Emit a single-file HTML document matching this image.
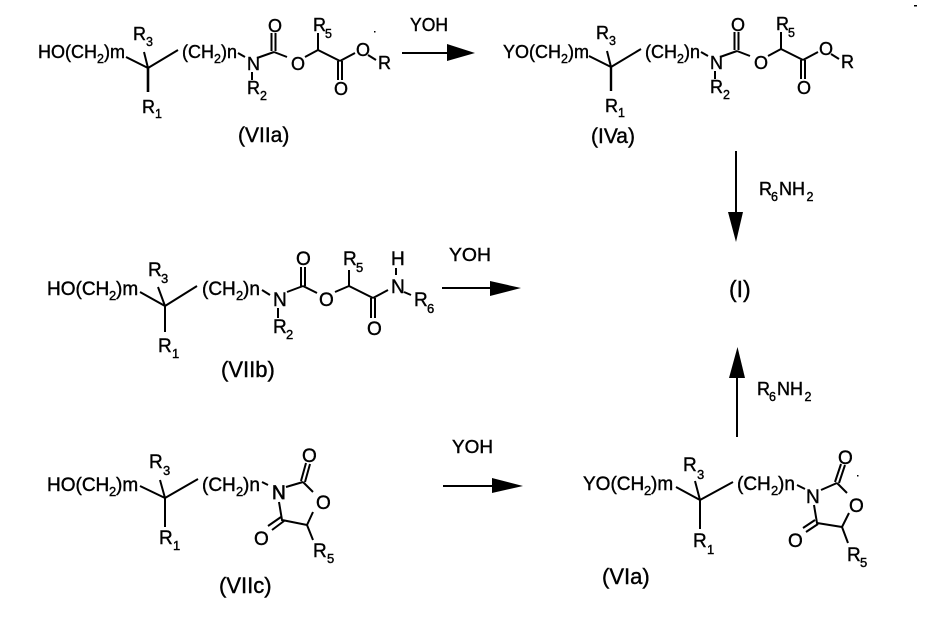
<!DOCTYPE html>
<html><head><meta charset="utf-8"><style>
html,body{margin:0;padding:0;background:#fff}
svg{display:block}
text{font-family:"Liberation Sans",sans-serif;font-size:18px;fill:#000;stroke:#000;stroke-width:.4}
text.s{font-size:12.5px}
text.l{font-size:21px}
.b text{font-size:19px}
.b text.s{font-size:13px}
.b text.l{font-size:22px}
path{stroke:#000;stroke-width:2;fill:none}
polygon{fill:#000;stroke:none}
</style></head><body>
<svg width="926" height="644" viewBox="0 0 926 644" xmlns="http://www.w3.org/2000/svg">

<!-- VIIa -->
<g>
<text x="38" y="58">HO(CH</text><text class="s" x="97" y="63">2</text><text x="104" y="58">)m</text>
<path d="M126 57L148 68M144 52L148 68M148 68L178 50"/>
<path d="M148 68V92" style="stroke-width:2.6"/>
<text x="133" y="40">R</text><text class="s" x="146" y="46">3</text>
<text x="142" y="113">R</text><text class="s" x="155" y="118">1</text>
<text x="182" y="58">(CH</text><text class="s" x="214" y="63">2</text><text x="221" y="58">)n</text>
<path d="M238 53L245 57"/>
<text x="247" y="70">N</text>
<path d="M252 72V80M257 58L274 52M271.500 51V33M275.500 51V33M274 52L287 57"/>
<text x="247" y="94">R</text><text class="s" x="260" y="100">2</text>
<text x="268" y="32">O</text>
<text x="291" y="70">O</text>
<path d="M305 57L318 50M318 50V33M318 50L340 61M338 61V80M342 61V80M340 61L355 53"/>
<text x="313" y="31">R</text><text class="s" x="325" y="38">5</text>
<text x="334" y="95">O</text>
<text x="356" y="56">O</text>
<path d="M368 55L376 60"/>
<text x="378" y="69">R</text>
<text class="l" x="238" y="142">(VIIa)</text>
</g>

<!-- arrow 1 -->
<text x="410" y="31" textLength="38" lengthAdjust="spacingAndGlyphs">YOH</text>
<path d="M402 53H448" style="stroke-width:2"/>
<polygon points="447,44 475,53 447,61"/>

<!-- IVa -->
<g transform="translate(463,-1)">
<text x="40" y="59">YO(CH</text><text class="s" x="98" y="64">2</text><text x="105" y="59">)m</text>
<path d="M126 57L148 68M144 52L148 68M148 68L178 50"/>
<path d="M148 68V92" style="stroke-width:2.400"/>
<text x="133" y="40">R</text><text class="s" x="146" y="46">3</text>
<text x="142" y="113">R</text><text class="s" x="155" y="118">1</text>
<text x="182" y="59">(CH</text><text class="s" x="214" y="64">2</text><text x="221" y="59">)n</text>
<path d="M238 53L245 57"/>
<text x="247" y="70">N</text>
<path d="M252 72V80M257 58L274 52M271.500 51V33M275.500 51V33M274 52L287 57"/>
<text x="247" y="94">R</text><text class="s" x="260" y="100">2</text>
<text x="268" y="32">O</text>
<text x="291" y="70">O</text>
<path d="M305 57L318 50M318 50V33M318 50L340 61M338 61V80M342 61V80M340 61L355 53"/>
<text x="313" y="31">R</text><text class="s" x="325" y="38">5</text>
<text x="334" y="95">O</text>
<text x="356" y="56">O</text>
<path d="M368 55L376 60"/>
<text x="378" y="69">R</text>
</g>
<text class="l" x="591" y="143">(IVa)</text>

<!-- down arrow -->
<path d="M736 151V214"/>
<polygon points="728,212 743,212 736,242"/>
<text x="759" y="195">R</text><text class="s" x="771" y="201">6</text><text x="779" y="195">NH</text><text class="s" x="806.500" y="201">2</text>

<text class="l" x="729" y="297" style="font-size:23px">(I)</text>

<!-- up arrow -->
<path d="M737 437V376"/>
<polygon points="729,378 745,378 737.500,347"/>
<text x="757" y="395">R</text><text class="s" x="769" y="401">6</text><text x="777" y="395">NH</text><text class="s" x="804.500" y="401">2</text>

<!-- VIIb -->
<g class="b">
<text x="47" y="295">HO(CH</text><text class="s" x="109" y="300">2</text><text x="116" y="295">)m</text>
<path d="M140 292L165 306M158 287L165 306M165 306V332M165 306L197 286"/>
<text x="148" y="276">R</text><text class="s" x="161" y="283">3</text>
<text x="158" y="352">R</text><text class="s" x="172" y="358">1</text>
<text x="202" y="295">(CH</text><text class="s" x="236" y="300">2</text><text x="243" y="295">)n</text>
<path d="M262 290L270 295"/>
<text x="273" y="306">N</text>
<path d="M278 308V318M287 292L303 286M301 286V267M305 286V267M303 286L317 293"/>
<text x="273" y="333">R</text><text class="s" x="286" y="339">2</text>
<text x="296" y="265">O</text>
<text x="319" y="306">O</text>
<path d="M335 292L349 286M349 286V270M349 286L373 298M371 298V318M375 298V318M373 298L388 290"/>
<text x="343" y="265">R</text><text class="s" x="356" y="272">5</text>
<text x="367" y="335">O</text>
<text x="391" y="293">N</text>
<text x="391" y="265">H</text>
<path d="M396 268V275M404 292L411 295"/>
<text x="414" y="306">R</text><text class="s" x="427" y="313">6</text>
<text class="l" x="221" y="377">(VIIb)</text>
</g>

<!-- arrow 2 -->
<text x="449" y="261" textLength="42" lengthAdjust="spacingAndGlyphs">YOH</text>
<path d="M442 288H492"/>
<polygon points="490,281 521,288 490,296"/>

<!-- VIIc -->
<g class="b">
<text x="47" y="491">HO(CH</text><text class="s" x="109" y="496">2</text><text x="116" y="491">)m</text>
<path d="M140 486L165 498M160 480L165 498M165 498V527M165 498L198 479"/>
<text x="149" y="468">R</text><text class="s" x="163" y="475">3</text>
<text x="159" y="544">R</text><text class="s" x="173" y="550">1</text>
<text x="202" y="491">(CH</text><text class="s" x="236" y="496">2</text><text x="243" y="491">)n</text>
<path d="M262 482L268 485"/>
<text x="272" y="499" style="stroke-width:.7">N</text>
<path d="M286 487L303 482M301 481L306 463M305 482L310 464M303 482L313 492M313 512L307 525L282 520L279 502M281 517L268 526M284 521L272 530M307 525L313 540"/>
<text x="302" y="462">O</text>
<text x="316" y="509">O</text>
<text x="254" y="545">O</text>
<text x="313" y="557">R</text><text class="s" x="327" y="563">5</text>
<text class="l" x="219" y="593">(VIIc)</text>
</g>

<!-- arrow 3 -->
<text x="452" y="453" textLength="41" lengthAdjust="spacingAndGlyphs">YOH</text>
<path d="M443 486H494"/>
<polygon points="492,478 523,486 492,493"/>

<!-- VIa -->
<g class="b">
<text x="583" y="490">YO(CH</text><text class="s" x="644" y="495">2</text><text x="651" y="490">)m</text>
<path d="M676 487L700 500M695 481L700 500M700 500V529M700 500L733 482"/>
<text x="683" y="471">R</text><text class="s" x="697" y="479">3</text>
<text x="693" y="547">R</text><text class="s" x="707" y="554">1</text>
<text x="737" y="490">(CH</text><text class="s" x="771" y="495">2</text><text x="778" y="490">)n</text>
<path d="M797 485L805 489"/>
<text x="806" y="503">N</text>
<path d="M821 490L837 483M835 482L841 464M839 483L845 465M837 483L847 493M849 513L842 527L817 523L814 505M815 520L803 528M818 524L806 532M842 527L848 543"/>
<text x="838" y="464">O</text>
<text x="849" y="512">O</text>
<text x="788" y="547">O</text>
<text x="847" y="561">R</text><text class="s" x="860" y="567">5</text>
</g>
<text class="l" x="602" y="584" style="font-size:22px">(VIa)</text>

<!-- specks -->
<rect x="914" y="5" width="3" height="1.500" fill="#000"/>
<rect x="374" y="31" width="1.500" height="1.500" fill="#000"/>
<rect x="857" y="475" width="1.500" height="1.500" fill="#000"/>
</svg>
</body></html>
